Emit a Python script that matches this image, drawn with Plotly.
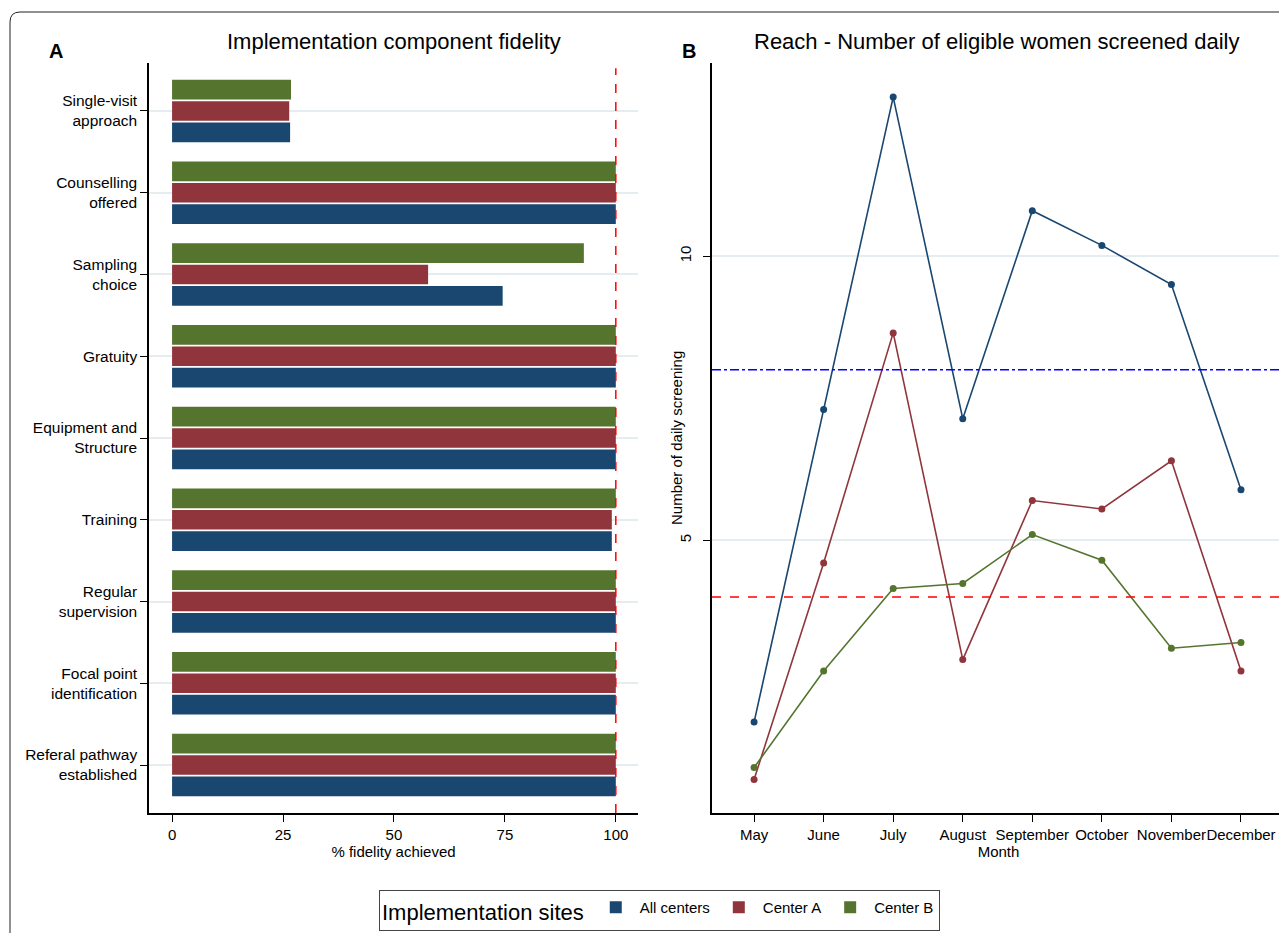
import plotly.graph_objects as go

# ---------------- data ----------------
components = [
    "Single-visit<br>approach",
    "Counselling<br>offered",
    "Sampling<br>choice",
    "Gratuity",
    "Equipment and<br>Structure",
    "Training",
    "Regular<br>supervision",
    "Focal point<br>identification",
    "Referal pathway<br>established",
]
fidelity_all = [26.6, 100, 74.5, 100, 100, 99.1, 100, 100, 100]
fidelity_a = [26.4, 100, 57.7, 100, 100, 99.1, 100, 100, 100]
fidelity_b = [26.8, 100, 92.8, 100, 100, 100, 100, 100, 100]
fidelity_target = 100

months = ["May", "June", "July", "August", "September", "October", "November", "December"]
reach_all = [1.80, 7.30, 12.80, 7.14, 10.80, 10.19, 9.50, 5.89]
reach_a = [0.79, 4.60, 8.65, 2.90, 5.70, 5.55, 6.40, 2.70]
reach_b = [1.00, 2.70, 4.15, 4.24, 5.10, 4.65, 3.10, 3.20]
reach_target_high = 8
reach_target_low = 4

site_names = ["All centers", "Center A", "Center B"]
site_colors = ["#1a476f", "#90353b", "#55752f"]

# ---------------- layout helpers ----------------
OFF = 8  # page body margin
W, H = 1287 - OFF, 933 - OFF
def px(x):
    return (x - OFF) / W
def py(y):
    return 1 - (y - OFF) / H

FONT = "Liberation Sans, Arial, Helvetica, sans-serif"
GRID = "#e6edf1"

fig = go.Figure()

for name, vals, col in zip(site_names, [fidelity_all, fidelity_a, fidelity_b], site_colors):
    fig.add_trace(go.Bar(
        y=components, x=vals, orientation="h", name=name,
        marker=dict(color=col, line=dict(width=0)),
        xaxis="x", yaxis="y", legendgroup=name,
    ))

for name, vals, col in zip(site_names, [reach_all, reach_a, reach_b], site_colors):
    fig.add_trace(go.Scatter(
        x=months, y=vals, mode="lines+markers", name=name,
        line=dict(color=col, width=1.6), marker=dict(color=col, size=7),
        xaxis="x2", yaxis="y2", showlegend=False, legendgroup=name,
    ))

axis_common = dict(
    showline=True, linecolor="black", linewidth=1.5,
    ticks="outside", ticklen=7, tickcolor="black", tickwidth=1.2,
    tickfont=dict(size=15, color="black", family=FONT),
    automargin=False, zeroline=False,
)

fig.update_layout(
    width=W, height=H,
    margin=dict(l=0, r=0, t=0, b=0),
    paper_bgcolor="white", plot_bgcolor="white",
    font=dict(family=FONT, color="black"),
    barmode="group", bargap=0.217, bargroupgap=0.08,
    xaxis=dict(
        **axis_common,
        domain=[px(149), px(638)], anchor="y",
        range=[-5.2, 105], tickvals=[0, 25, 50, 75, 100],
        showgrid=False,
        title=dict(text="% fidelity achieved", font=dict(size=15), standoff=2),
    ),
    yaxis=dict(
        **axis_common,
        domain=[py(813), py(63)], anchor="x",
        type="category", categoryorder="array",
        categoryarray=list(reversed(components)),
        range=[-0.587, 8.587],
        showgrid=True, gridcolor=GRID, gridwidth=1.5,
    ),
    xaxis2=dict(
        **axis_common,
        domain=[px(712), px(1285)], anchor="y2",
        type="category", range=[-0.605, 7.633],
        showgrid=False, tickangle=0,
        title=dict(text="Month", font=dict(size=15), standoff=2),
    ),
    yaxis2=dict(
        **axis_common,
        domain=[py(813), py(63)], anchor="x2",
        range=[0.2, 13.4], tickvals=[5, 10], tickangle=-90,
        ticklabelstandoff=6,
        showgrid=True, gridcolor=GRID, gridwidth=1.5,
    ),
    legend=dict(
        orientation="h", x=px(379), y=py(890), xanchor="left", yanchor="top",
        title=dict(text="Implementation sites", font=dict(size=22), side="left"),
        font=dict(size=15, color="black"),
        bordercolor="#444", borderwidth=1, bgcolor="white",
        traceorder="normal", itemwidth=38,
    ),
    showlegend=True,
)
fig.update_yaxes(tickfont_size=15.5, selector=dict(anchor="x"))

# reference lines
fig.add_shape(type="line", xref="x", yref="y domain", x0=fidelity_target, x1=fidelity_target,
              y0=0, y1=0.993, line=dict(color="#ff0000", width=1.5, dash="dash"))
fig.add_shape(type="line", xref="x2 domain", yref="y2", x0=0, x1=1,
              y0=reach_target_high, y1=reach_target_high,
              line=dict(color="#0000ff", width=1.5, dash="dashdot"))
fig.add_shape(type="line", xref="x2 domain", yref="y2", x0=0, x1=1,
              y0=reach_target_low, y1=reach_target_low,
              line=dict(color="#ff0000", width=1.5, dash="dash"))

# outer rounded frame
r = 10
fig.add_shape(
    type="path", xref="paper", yref="paper",
    path=(f"M {px(10)},{py(H + 40)} L {px(10)},{py(12 + r)} "
          f"Q {px(10)},{py(12)} {px(10 + r)},{py(12)} L {px(W + 40)},{py(12)}"),
    line=dict(color="#222", width=1),
)

# titles, axis title and panel letters
fig.add_annotation(text="Implementation component fidelity", x=px(394), y=py(42),
                   xref="paper", yref="paper", showarrow=False,
                   font=dict(size=22, color="black"), xanchor="center", yanchor="middle")
fig.add_annotation(text="Reach - Number of eligible women screened daily", x=px(996), y=py(42),
                   xref="paper", yref="paper", showarrow=False,
                   font=dict(size=22, color="black"), xanchor="center", yanchor="middle")
fig.add_annotation(text="Number of daily screening", x=px(676), y=py(438),
                   xref="paper", yref="paper", showarrow=False, textangle=-90,
                   font=dict(size=15, color="black"), xanchor="center", yanchor="middle")
fig.add_annotation(text="<b>A</b>", x=px(47), y=py(38), xref="paper", yref="paper",
                   showarrow=False, font=dict(size=20, color="black"))
fig.add_annotation(text="<b>B</b>", x=px(689), y=py(38), xref="paper", yref="paper",
                   showarrow=False, font=dict(size=20, color="black"))

fig.write_html("out.html")
